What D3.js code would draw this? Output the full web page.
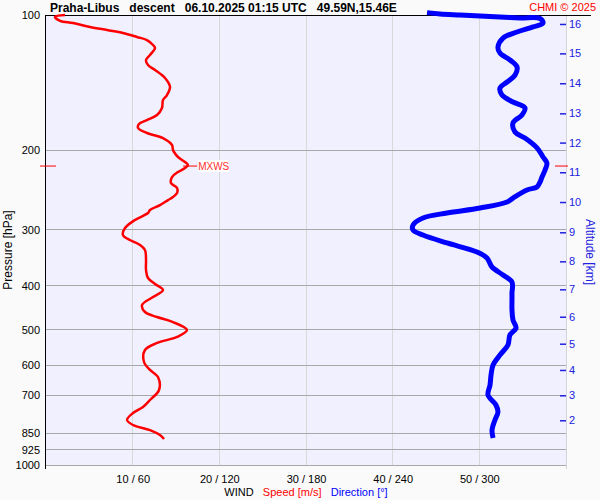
<!DOCTYPE html>
<html><head><meta charset="utf-8">
<script src="https://cdn.jsdelivr.net/npm/d3@7"></script>
<style>
html,body{margin:0;padding:0;background:#fafafa;}
svg{display:block;font-family:"Liberation Sans",Arial,sans-serif;}
</style></head>
<body><svg id="c" width="600" height="500"></svg>
<script>
// ---- data ----
const pressureTicks = [100,200,300,400,500,600,700,850,925,1000];
const speedTicks = [10,20,30,40,50];
const speedTickLabels = ["10 / 60","20 / 120","30 / 180","40 / 240","50 / 300"];
const altLabels = ["2","3","4","5","6","7","8","9","10","11","12","13","14","15","16"];
const altPressures = [795.5,700,614.9,537.6,468.3,407,352.7,304,260.4,223.6,192.1,165.4,141.8,121.7,104.7];

const speedP = [100,100.9,103,104.2,106.3,108,109.6,111.9,113.7,116.6,118.4,122.7,125.9,129.2,132.5,138,144.5,150.6,154.5,160.9,166.8,171.2,174.7,178.3,182.9,187.7,194.5,199.5,201.6,206.8,212.2,215.4,218.8,223.3,229.1,236.3,242.4,248.7,253.9,257.8,264.5,271.3,275.4,285.4,297.4,308.3,316.2,324.4,332.8,350.3,368.7,384.1,396,408.4,423.3,441,457.1,469,481.2,501.2,519.4,535.6,555.2,590.4,614.9,637.4,681.3,717.1,743.2,766.4,794.3,815,836.3,857.7,875.5];
const speedV = [2.19,1.04,1.62,3.12,5.08,7.04,8.88,10.5,11.65,12.35,12.58,12.0,11.54,11.77,12.58,13.73,14.31,13.96,13.5,13.38,12.81,11.65,10.73,10.62,11.65,13.5,14.54,14.65,14.77,15.23,16.04,16.38,16.04,15.23,14.54,14.42,15.12,15.12,14.65,14.08,13.15,12.0,11.77,10.27,9.12,8.88,9.69,10.85,11.42,11.54,11.54,11.77,12.58,13.5,12.35,11.08,11.42,12.81,14.65,16.27,15.12,12.81,11.42,11.31,12.0,12.92,13.04,12.0,11.19,10.04,9.35,10.04,12.0,13.15,13.62];

const dirP = [98.8,99.5,100,100.5,101,101.5,101.8,104.2,106.3,109.1,112.5,117.8,121.5,125.9,130.5,136,140.9,145.3,150.6,156.1,160.9,166.8,173.8,182,187.7,197.4,206.8,213.3,221,229.1,235.1,241.1,244.8,255.1,260.4,268.5,275.4,282.5,292.9,300.5,308.3,321.1,336.2,346.7,363.1,378.2,392,414.8,430,452.4,476.2,496,514.1,541.2,569.6,599.5,631,664.2,699,735.6,762.5,794.3,836.3,871];
const dirV = [263.8,272.8,286.6,300.5,314.3,328.2,342.0,344.1,337.2,326.1,316.4,312.9,314.3,321.2,326.1,324.7,319.2,314.3,315.7,323.3,331.6,329.5,323.3,324.7,331.6,339.9,344.1,346.8,345.5,343.4,342.0,339.9,333.0,323.3,319.2,300.5,277.6,261.0,254.1,254.1,261.0,277.6,298.4,305.3,308.8,316.4,322.6,322.6,322.6,322.6,323.3,325.4,321.2,319.8,314.3,309.5,308.1,307.4,306.0,311.5,312.9,310.8,308.8,309.5];

const maxWind = {p:216.6, v:16.4, label:"MXWS"};
const titleText = "Praha-Libus   descent   06.10.2025 01:15 UTC   49.59N,15.46E";
const creditText = "CHMI © 2025";

// ---- scales ----
const svg = d3.select("#c");
const x = d3.scaleLinear().domain([0,60]).range([46,566]);
const xd = d3.scaleLinear().domain([0,360]).range([46,566]);
const y = d3.scaleLog().domain([100,1000]).range([15,465]);

// plot background
svg.append("rect").attr("x",45).attr("y",15).attr("width",521).attr("height",450).attr("fill","#f0f0ff");

// vertical grid
svg.append("g").selectAll("line").data(speedTicks).join("line")
  .attr("x1",d=>x(d)).attr("x2",d=>x(d)).attr("y1",15).attr("y2",465)
  .attr("stroke","#d8d8d8").attr("stroke-width",1).attr("shape-rendering","crispEdges");
// horizontal grid
svg.append("g").selectAll("line").data(pressureTicks.slice(1)).join("line")
  .attr("x1",45).attr("x2",566).attr("y1",d=>y(d)).attr("y2",d=>y(d))
  .attr("stroke","#a8a8a8").attr("stroke-width",1).attr("shape-rendering","crispEdges");
// right border
svg.append("line").attr("x1",566).attr("x2",566).attr("y1",15).attr("y2",469)
  .attr("stroke","#d4d4dc").attr("shape-rendering","crispEdges");
// frame lines
svg.append("line").attr("x1",45).attr("x2",45).attr("y1",15).attr("y2",469)
  .attr("stroke","#000").attr("shape-rendering","crispEdges");
svg.append("line").attr("x1",45).attr("x2",591).attr("y1",15).attr("y2",15)
  .attr("stroke","#000").attr("shape-rendering","crispEdges");

// left axis
const la = svg.append("g").attr("transform","translate(45,0)")
  .call(d3.axisLeft(y).tickValues(pressureTicks).tickFormat(d3.format("d")).tickSize(0).tickPadding(5));
la.select(".domain").remove();
la.selectAll("text").attr("font-size",11).attr("fill","#000").attr("font-family","Liberation Sans, Arial, sans-serif");

// bottom axis
const ba = svg.append("g").attr("transform","translate(0,465)")
  .call(d3.axisBottom(x).tickValues(speedTicks).tickFormat((d,i)=>speedTickLabels[i]).tickSize(0).tickPadding(10));
ba.select(".domain").remove();
ba.selectAll("text").attr("font-size",11).attr("fill","#000").attr("font-family","Liberation Sans, Arial, sans-serif");

// right altitude axis
const ra = svg.append("g").attr("transform","translate(560,0)")
  .call(d3.axisRight(y).tickValues(altPressures).tickFormat((d,i)=>altLabels[i]).tickSize(6).tickPadding(3));
ra.select(".domain").remove();
ra.selectAll("line").attr("stroke","#2020e0").attr("stroke-width",1.5);
ra.selectAll("text").attr("font-size",11).attr("fill","#2020e0").attr("font-family","Liberation Sans, Arial, sans-serif");

// axis titles
svg.append("text").attr("transform","translate(12,250) rotate(-90)").attr("text-anchor","middle")
  .attr("font-size",12).attr("fill","#000").text("Pressure [hPa]");
svg.append("text").attr("transform","translate(586,252) rotate(90)").attr("text-anchor","middle")
  .attr("font-size",12).attr("fill","#2020e0").text("Altitude [km]");
const bt = svg.append("text").attr("x",306).attr("y",496).attr("text-anchor","middle").attr("font-size",11)
  .attr("xml:space","preserve");
bt.append("tspan").attr("fill","#000").text("WIND   ");
bt.append("tspan").attr("fill","#ff0000").text("Speed [m/s]   ");
bt.append("tspan").attr("fill","#0000ff").text("Direction [°]");

// title
svg.append("text").attr("x",50).attr("y",12).attr("font-size",12).attr("font-weight","bold")
  .attr("fill","#000").style("white-space","pre").text(titleText);
svg.append("text").attr("x",596).attr("y",11).attr("text-anchor","end").attr("font-size",11)
  .attr("fill","#ff0000").text(creditText);

// direction line
const dirData = dirP.map((p,i)=>({p, v:dirV[i]}));
svg.append("path").datum(dirData)
  .attr("d", d3.line().x(d=>xd(d.v)).y(d=>y(d.p)).curve(d3.curveCatmullRom))
  .attr("fill","none").attr("stroke","#0000ff").attr("stroke-width",5).attr("stroke-linejoin","round");

// speed line
const spData = speedP.map((p,i)=>({p, v:speedV[i]}));
svg.append("path").datum(spData)
  .attr("d", d3.line().x(d=>x(d.v)).y(d=>y(d.p)).curve(d3.curveCatmullRom))
  .attr("fill","none").attr("stroke","#ff0000").attr("stroke-width",2.5).attr("stroke-linejoin","round");

// max wind markers
const my = y(maxWind.p);
svg.append("line").attr("x1",40).attr("x2",56).attr("y1",my).attr("y2",my).attr("stroke","#ff0000");
svg.append("line").attr("x1",555).attr("x2",568).attr("y1",my).attr("y2",my).attr("stroke","#ff0000");
svg.append("line").attr("x1",x(maxWind.v)-5).attr("x2",x(maxWind.v)+9).attr("y1",my).attr("y2",my).attr("stroke","#ff0000");
svg.append("rect").attr("x",x(maxWind.v)+10).attr("y",my-6).attr("width",31).attr("height",12).attr("fill","#fff");
svg.append("text").attr("x",x(maxWind.v)+10).attr("y",my).attr("dy","0.35em").attr("font-size",10)
  .attr("fill","#ff3030").text(maxWind.label);
</script></body></html>
